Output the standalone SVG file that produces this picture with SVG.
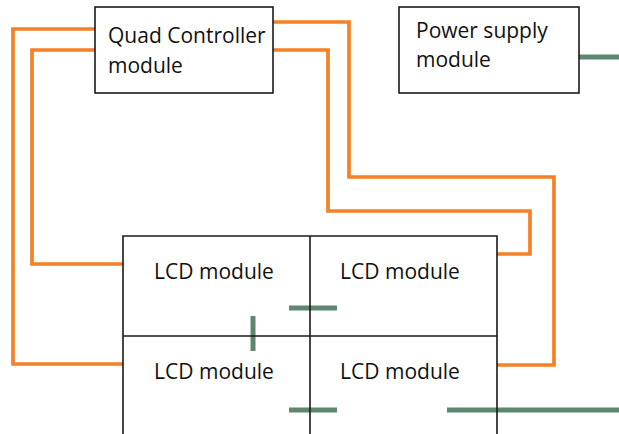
<svg xmlns="http://www.w3.org/2000/svg" width="619" height="434" viewBox="0 0 619 434">
<style>
.box{fill:#fff;stroke:#1a1a1a;stroke-width:1.6}
.grid{fill:none;stroke:#1a1a1a;stroke-width:1.6}
.t{font-family:"Open Sans","Liberation Sans",sans-serif;font-size:21px;fill:#111}
.or{fill:none;stroke:#f58025;stroke-width:3.7}
.gr{fill:none;stroke:#5e8770;stroke-width:5}
</style>
<rect width="619" height="434" fill="#fff"/>
<g id="connectors">
<polyline class="or" points="95,29 13,29 13,364 123,364"/>
<polyline class="or" points="95,50 32,50 32,264 123,264"/>
<polyline class="or" points="273,22 349,22 349,177 554,177 554,365 497,365"/>
<polyline class="or" points="273,50 328,50 328,211 530,211 530,254 497,254"/>
<line class="gr" x1="579" y1="57" x2="619" y2="57"/>
<line class="gr" x1="289" y1="308" x2="337" y2="308"/>
<line class="gr" x1="253" y1="316" x2="253" y2="351"/>
<line class="gr" x1="289" y1="410" x2="337" y2="410"/>
<line class="gr" x1="447" y1="410" x2="619" y2="410"/>
</g>
<g id="quad-controller">
<rect class="box" x="95" y="7" width="178" height="86"/>
<text class="t" x="108" y="43">Quad Controller</text>
<text class="t" x="108" y="73">module</text>
</g>
<g id="power-supply">
<rect class="box" x="399" y="7" width="180" height="86"/>
<text class="t" x="416" y="38">Power supply</text>
<text class="t" x="416" y="67">module</text>
</g>
<g id="lcd-grid">
<polyline class="grid" points="123,440 123,236 497,236 497,440"/>
<line class="grid" x1="310" y1="236" x2="310" y2="440"/>
<line class="grid" x1="123" y1="336" x2="497" y2="336"/>
</g>
<g id="lcd-1"><text class="t" x="214" y="279" text-anchor="middle">LCD module</text></g>
<g id="lcd-2"><text class="t" x="400" y="279" text-anchor="middle">LCD module</text></g>
<g id="lcd-3"><text class="t" x="214" y="379" text-anchor="middle">LCD module</text></g>
<g id="lcd-4"><text class="t" x="400" y="379" text-anchor="middle">LCD module</text></g>
</svg>
